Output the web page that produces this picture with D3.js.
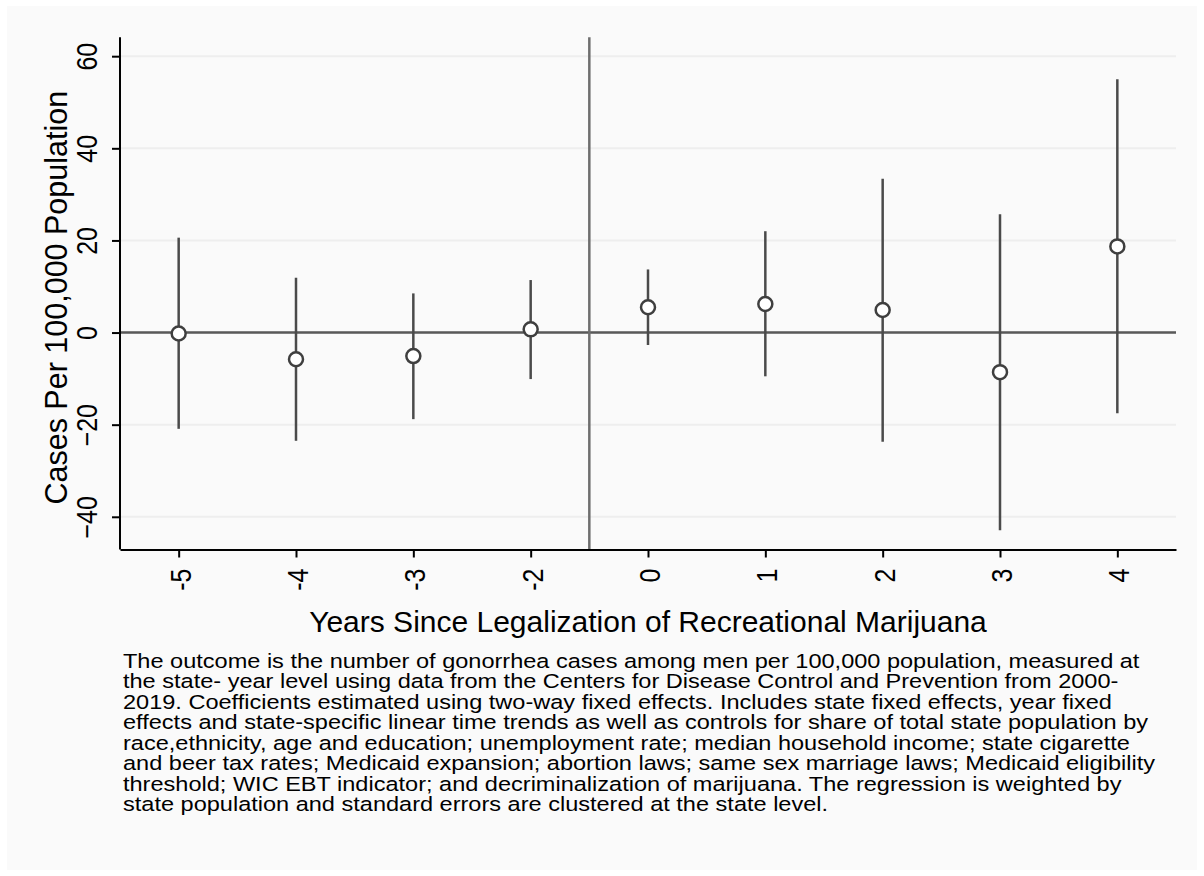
<!DOCTYPE html>
<html>
<head>
<meta charset="utf-8">
<script src="https://cdn.jsdelivr.net/npm/d3@7"></script>
<style>
  html, body { margin: 0; padding: 0; background: #ffffff; }
  svg { display: block; font-family: "Liberation Sans", Arial, Helvetica, sans-serif; }
</style>
</head>
<body>
<svg id="chart" width="1204" height="876"></svg>
<script>
// event-time categories and estimates
var periods = ["-5", "-4", "-3", "-2", "0", "1", "2", "3", "4"];
var coef  = [-0.2, -5.8, -5.1, 0.7, 5.5, 6.2, 4.9, -8.6, 18.7];
var lower = [-20.9, -23.5, -18.8, -10.1, -2.7, -9.5, -23.7, -42.9, -17.5];
var upper = [20.6, 11.9, 8.5, 11.4, 13.7, 22.0, 33.4, 25.7, 55.0];
var yTicks = [-40, -20, 0, 20, 40, 60];

var yTitle = "Cases Per 100,000 Population";
var xTitle = "Years Since Legalization of Recreational Marijuana";
var note = [
    "The outcome is the number of gonorrhea cases among men per 100,000 population, measured at",
    "the state- year level using data from the Centers for Disease Control and Prevention from 2000-",
    "2019. Coefficients estimated using two-way fixed effects. Includes state fixed effects, year fixed",
    "effects and state-specific linear time trends as well as controls for share of total state population by",
    "race,ethnicity, age and education; unemployment rate; median household income; state cigarette",
    "and beer tax rates; Medicaid expansion; abortion laws; same sex marriage laws; Medicaid eligibility",
    "threshold; WIC EBT indicator; and decriminalization of marijuana. The regression is weighted by",
    "state population and standard errors are clustered at the state level."
];

(function() {
    var rows = periods.map(function(p, i) {
        return { label: p, b: coef[i], lo: lower[i], hi: upper[i] };
    });

    var svg = d3.select("#chart");

    var pLeft = 120, pRight = 1176, pTop = 37.3, pBottom = 549.5;

    var x = d3.scalePoint()
        .domain(periods)
        .range([pLeft, pRight])
        .padding(0.5);

    var y = d3.scaleLinear()
        .domain([-47.1, 64.1])
        .range([pBottom, pTop]);

    // graph region
    svg.append("rect")
        .attr("x", 7).attr("y", 6)
        .attr("width", 1190).attr("height", 864)
        .attr("fill", "#fafafa");

    // gridlines
    svg.append("g")
        .selectAll("line")
        .data(yTicks)
        .enter().append("line")
        .attr("x1", pLeft).attr("x2", pRight)
        .attr("y1", y).attr("y2", y)
        .attr("stroke", "#eeeeee")
        .attr("stroke-width", 2);

    // reference lines
    svg.append("line")
        .attr("x1", pLeft).attr("x2", pRight)
        .attr("y1", y(0)).attr("y2", y(0))
        .attr("stroke", "#595959")
        .attr("stroke-width", 2.5);

    var cut = (x("-2") + x("0")) / 2;
    svg.append("line")
        .attr("x1", cut).attr("x2", cut)
        .attr("y1", pTop).attr("y2", pBottom)
        .attr("stroke", "#6e6e6e")
        .attr("stroke-width", 2.5);

    // axes
    var yAxis = svg.append("g")
        .attr("transform", "translate(" + pLeft + ",0)")
        .call(d3.axisLeft(y).tickValues(yTicks).tickSize(8));

    var xAxis = svg.append("g")
        .attr("transform", "translate(0," + pBottom + ")")
        .call(d3.axisBottom(x).tickSize(8).tickSizeOuter(0));

    [yAxis, xAxis].forEach(function(a) {
        a.select(".domain").attr("stroke", "#000").attr("stroke-width", 2);
        a.selectAll(".tick line").attr("stroke", "#000").attr("stroke-width", 2);
        a.selectAll(".tick text")
            .attr("fill", "#000")
            .attr("x", 0).attr("y", 0).attr("dy", null)
            .style("font-size", "25px")
            .style("font-family", "'Liberation Sans', Arial, sans-serif");
    });

    // y axis line spans the full plot height
    yAxis.select(".domain").attr("d", "M0," + pTop + "V" + pBottom);

    // rotated tick labels, glyphs a little wider as in the original
    yAxis.selectAll(".tick text")
        .attr("text-anchor", "middle")
        .attr("transform", "translate(-23.5,0) rotate(-90) scale(1,1.16)");

    xAxis.selectAll(".tick text")
        .attr("text-anchor", "end")
        .attr("transform", "translate(11.5,19) rotate(-90) scale(1,1.16)");

    // error bars
    svg.append("g")
        .selectAll("line")
        .data(rows)
        .enter().append("line")
        .attr("x1", function(d) { return x(d.label); })
        .attr("x2", function(d) { return x(d.label); })
        .attr("y1", function(d) { return y(d.lo); })
        .attr("y2", function(d) { return y(d.hi); })
        .attr("stroke", "#4a4a4a")
        .attr("stroke-width", 2.5);

    // point estimates
    svg.append("g")
        .selectAll("circle")
        .data(rows)
        .enter().append("circle")
        .attr("cx", function(d) { return x(d.label); })
        .attr("cy", function(d) { return y(d.b); })
        .attr("r", 7)
        .attr("fill", "#fff")
        .attr("stroke", "#3f3f3f")
        .attr("stroke-width", 2.5);

    // titles
    svg.append("text")
        .attr("transform", "translate(66.5,297.7) rotate(-90)")
        .attr("text-anchor", "middle")
        .style("font-size", "30.5px")
        .text(yTitle);

    svg.append("text")
        .attr("x", (pLeft + pRight) / 2)
        .attr("y", 631.5)
        .attr("text-anchor", "middle")
        .style("font-size", "30px")
        .text(xTitle);

    svg.append("g")
        .selectAll("text")
        .data(note)
        .enter().append("text")
        .attr("transform", function(d, i) {
            return "translate(123," + (667.5 + i * 20.5) + ") scale(1.16,1)";
        })
        .style("font-size", "20.3px")
        .text(function(d) { return d; });
})();
</script>
</body>
</html>
